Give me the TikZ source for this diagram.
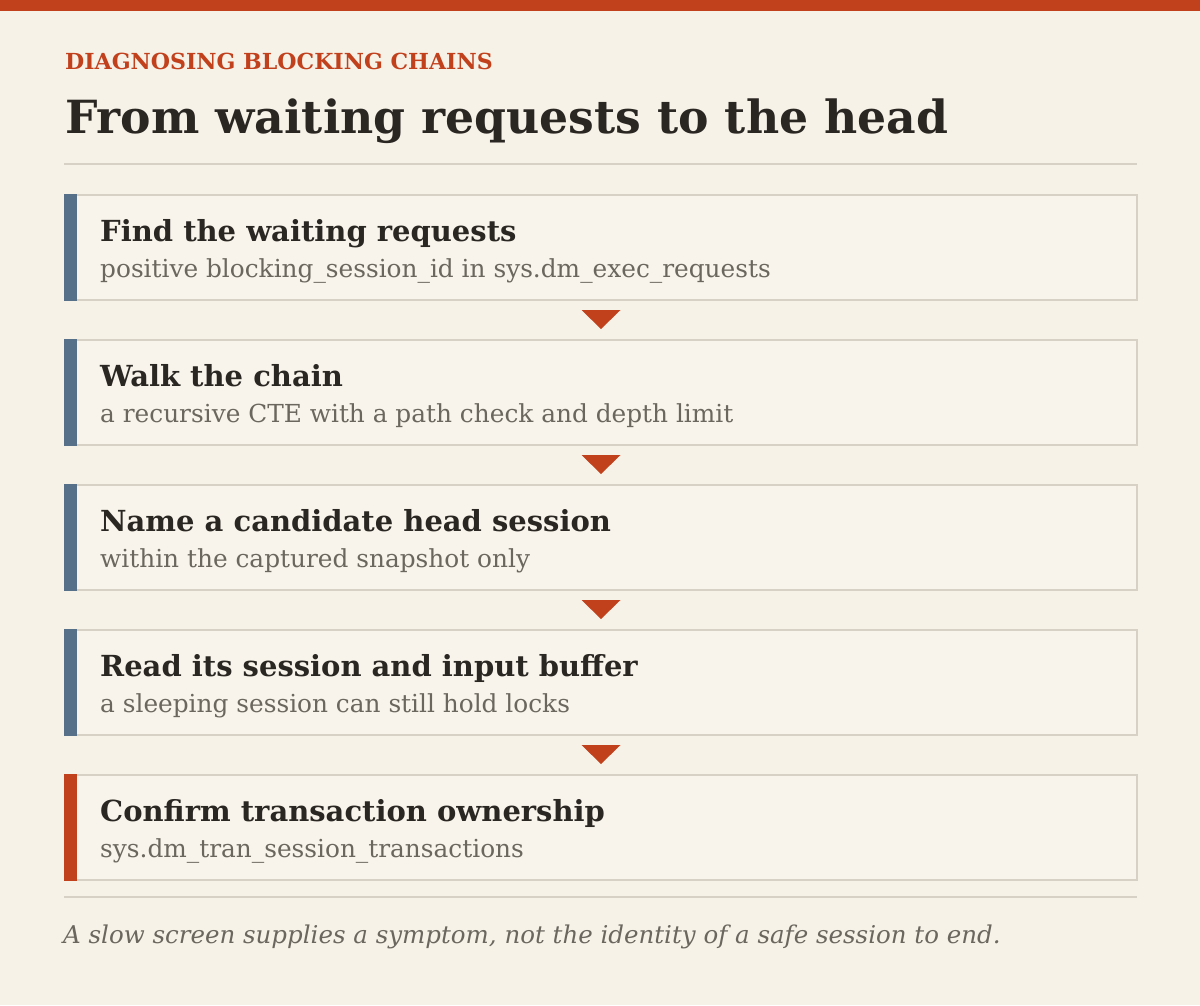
\documentclass[tikz,border=0pt]{standalone}
\usepackage{fontspec}
\setmainfont{DejaVu Serif}
\usetikzlibrary{calc}
\definecolor{bg}{HTML}{F7F2E8}
\definecolor{accent}{HTML}{C2411D}
\definecolor{steel}{HTML}{56708A}
\definecolor{ink}{HTML}{2A2622}
\definecolor{muted}{HTML}{6B665E}
\definecolor{rulec}{HTML}{D7D0C4}
\definecolor{boxfill}{HTML}{F8F4EB}
\tikzset{
  stepbox/.style={draw=rulec, line width=2pt, fill=boxfill, minimum width=1072pt, minimum height=105pt, anchor=north west, inner sep=0pt, outer sep=0pt},
  steptitle/.style={anchor=base west, inner sep=0pt, text=ink, font=\fontsize{29}{35}\selectfont\bfseries},
  stepsub/.style={anchor=base west, inner sep=0pt, text=muted, font=\fontsize{24.8}{30}\selectfont},
  downtri/.style={fill=accent},
}
\begin{document}
\begin{tikzpicture}[x=1pt,y=-1pt]
\useasboundingbox (0,0) rectangle (1200,1005);
\fill[bg] (0,0) rectangle (1200,1005);
\fill[accent] (0,0) rectangle (1200,11);
\node[anchor=base west, inner sep=0pt, text=accent, font=\fontsize{22.1}{26}\selectfont\bfseries] (kicker) at (65,69) {DIAGNOSING BLOCKING CHAINS};
\node[anchor=base west, inner sep=0pt, text=ink, font=\fontsize{45.7}{54}\selectfont\bfseries] (title) at (65,133) {From waiting requests to the head};
\draw[rulec, line width=2pt] (64,164) -- (1137,164);
\foreach \i/\y/\bar/\t/\s in {
  1/194/steel/{Find the waiting requests}/{positive blocking\_session\_id in sys.dm\_exec\_requests},
  2/339/steel/{Walk the chain}/{a recursive CTE with a path check and depth limit},
  3/484/steel/{Name a candidate head session}/{within the captured snapshot only},
  4/629/steel/{Read its session and input buffer}/{a sleeping session can still hold locks},
  5/774/accent/{Confirm transaction ownership}/{sys.dm\_tran\_session\_transactions}}{
  \node[stepbox] (b\i) at (65,\y+1) {};
  \fill[\bar] (64,\y) rectangle (77,\y+107);
  \node[steptitle] (t\i) at (100,\y+47) {\t};
  \node[stepsub] (s\i) at (100,\y+83) {\s};
}
\foreach \a/\b in {1/2,2/3,3/4,4/5}{
  \fill[downtri] ($(b\a.south)+(-19.5,10)$) -- ($(b\a.south)+(19.5,10)$) -- ($(b\a.south)+(0,29)$) -- cycle;
}
\draw[rulec, line width=2pt] (64,897) -- (1137,897);
\node[anchor=base west, inner sep=0pt, text=muted, font=\fontsize{24.5}{30}\selectfont\itshape] (foot) at (63,943) {A slow screen supplies a symptom, not the identity of a safe session to end.};
\end{tikzpicture}
\end{document}
